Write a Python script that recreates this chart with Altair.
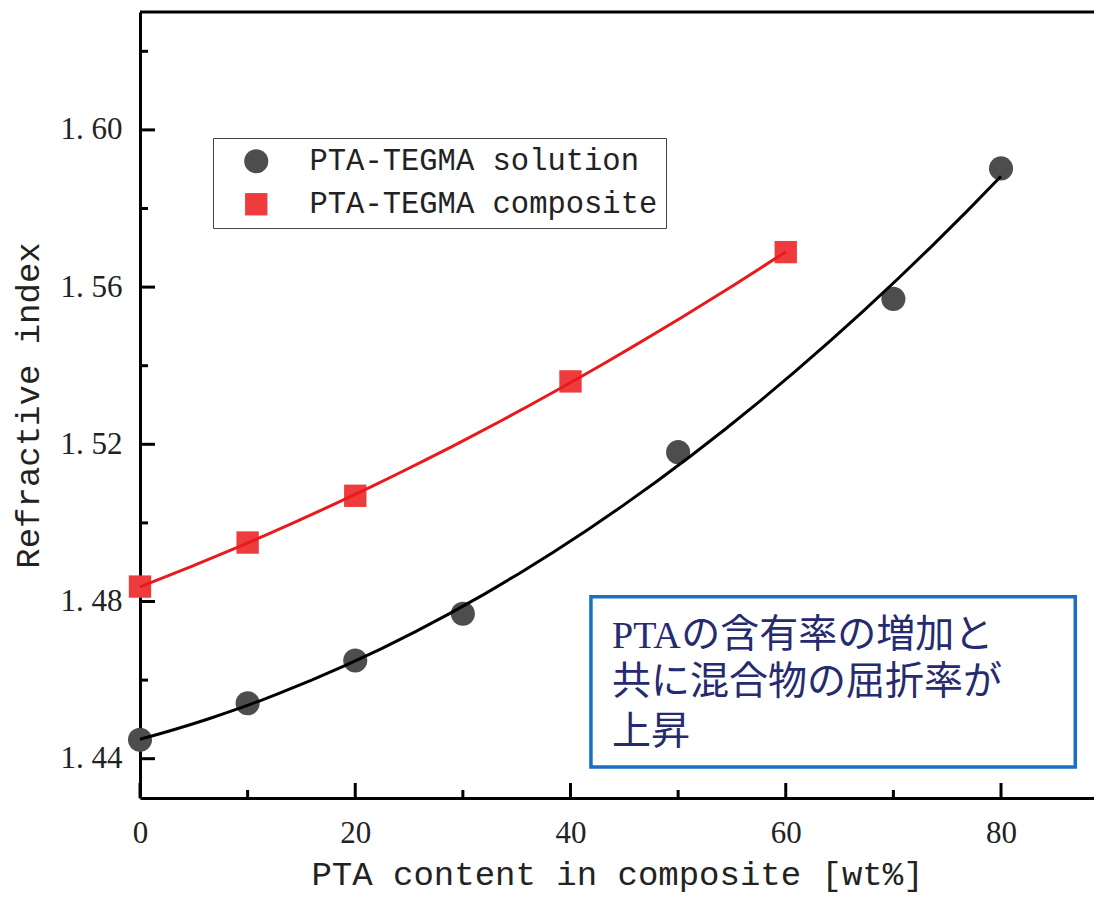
import altair as alt
import pandas as pd

# ---- data ----
series_names = ["PTA-TEGMA solution", "PTA-TEGMA composite"]
solution_x = [0, 10, 20, 30, 50, 70, 80]
solution_y = [1.4448, 1.4541, 1.4650, 1.4769, 1.5180, 1.5570, 1.5902]
composite_x = [0, 10, 20, 40, 60]
composite_y = [1.4838, 1.4950, 1.5069, 1.5360, 1.5689]

x_major_ticks = [0, 20, 40, 60, 80]
x_minor_ticks = [10, 30, 50, 70]
y_major_ticks = [1.44, 1.48, 1.52, 1.56, 1.60]
y_minor_ticks = [1.46, 1.50, 1.54, 1.58, 1.62]

note_prefix = "PTA"
note_lines = ["の含有率の増加と", "共に混合物の屈折率が", "上昇"]

# ---- layout constants ----
W, H = 954, 786
x_domain = [0, 88.64]
y_domain = [1.43, 1.63]
note_box = {"x": 41.9, "x2": 86.9, "y": 1.4379, "y2": 1.4812}
note_text_x = 43.86
note_rest_x = 50.3
note_line_y = [1.4715, 1.4596, 1.4468]

NAVY = "#262a6e"

df = pd.DataFrame({
    "x": solution_x + composite_x,
    "y": solution_y + composite_y,
    "series": [series_names[0]] * len(solution_x) + [series_names[1]] * len(composite_x),
})

xs = alt.Scale(domain=x_domain, nice=False, zero=False)
ys = alt.Scale(domain=y_domain, nice=False, zero=False)

x_axis = alt.Axis(
    values=x_major_ticks, ticks=False, grid=False, domainColor="black", domainWidth=3,
    labelFont="Liberation Serif", labelFontSize=31, labelColor="#222222", labelPadding=20,
    labelFlush=False,
    title="PTA content in composite [wt%]", titleFont="Liberation Mono", titleFontSize=34,
    titleFontWeight="normal", titleColor="#222222", titlePadding=9,
)
y_axis = alt.Axis(
    values=y_major_ticks, ticks=False, grid=False, domainColor="black", domainWidth=3,
    labelFont="Liberation Serif", labelFontSize=31, labelColor="#222222", labelPadding=18,
    labelFlush=False,
    labelExpr="replace(format(datum.value, '.2f'), '.', '. ')",
    title="Refractive index", titleFont="Liberation Mono", titleFontSize=34,
    titleFontWeight="normal", titleColor="#222222", titlePadding=15,
)


def X(field="x"):
    return alt.X(f"{field}:Q", scale=xs, axis=x_axis, title="PTA content in composite [wt%]")


def Y(field="y"):
    return alt.Y(f"{field}:Q", scale=ys, axis=y_axis, title="Refractive index")


legend = alt.Legend(
    title=None, orient="none", legendX=73, legendY=126,
    strokeColor="#444444", fillColor="white", padding=8,
    labelFont="Liberation Mono", labelFontSize=30.5, labelColor="#222222", labelLimit=0,
    labelOffset=38, symbolOffset=20, symbolSize=560, rowPadding=12,
    symbolStrokeWidth=0,
)

points = alt.Chart(df).mark_point(filled=True, opacity=1).encode(
    x=X(), y=Y(),
    color=alt.Color("series:N", scale=alt.Scale(domain=series_names, range=["#4d4d4d", "#ee3b3e"]), legend=legend),
    shape=alt.Shape("series:N", scale=alt.Scale(domain=series_names, range=["circle", "square"]), legend=legend),
    size=alt.Size("series:N", scale=alt.Scale(domain=series_names, range=[580, 500]), legend=None),
)

line_sol = alt.Chart(df).transform_filter(
    alt.datum.series == series_names[0]
).transform_regression("x", "y", method="poly", order=2).mark_line(
    color="black", strokeWidth=3
).encode(x=X(), y=Y())

line_comp = alt.Chart(df).transform_filter(
    alt.datum.series == series_names[1]
).transform_regression("x", "y", method="poly", order=2).mark_line(
    color="#ea1a1c", strokeWidth=3
).encode(x=X(), y=Y())

# inward ticks
ytm = alt.Chart(pd.DataFrame({"y": y_major_ticks})).mark_rule(color="black", strokeWidth=3).encode(
    y=Y(), x=alt.value(0), x2=alt.value(15))
ytn = alt.Chart(pd.DataFrame({"y": y_minor_ticks})).mark_rule(color="black", strokeWidth=3).encode(
    y=Y(), x=alt.value(0), x2=alt.value(8))
xtm = alt.Chart(pd.DataFrame({"x": x_major_ticks})).mark_rule(color="black", strokeWidth=3).encode(
    x=X(), y=alt.value(H), y2=alt.value(H - 15))
xtn = alt.Chart(pd.DataFrame({"x": x_minor_ticks})).mark_rule(color="black", strokeWidth=3).encode(
    x=X(), y=alt.value(H), y2=alt.value(H - 8))

top_border = alt.Chart(pd.DataFrame({"k": [0]})).mark_rule(color="black", strokeWidth=3).encode(
    x=alt.value(0), x2=alt.value(W), y=alt.value(0))

box_df = pd.DataFrame([note_box])
note_rect = alt.Chart(box_df).mark_rect(fill="white", stroke="#1a70c0", strokeWidth=3.5).encode(
    x=X(), x2="x2:Q", y=Y(), y2="y2:Q")

prefix_df = pd.DataFrame({"x": [note_text_x], "y": [note_line_y[0]], "t": [note_prefix]})
note_prefix_mark = alt.Chart(prefix_df).mark_text(
    align="left", baseline="middle", font="Liberation Serif", fontSize=38, color=NAVY, dy=2
).encode(x=X(), y=Y(), text="t:N")

lines_df = pd.DataFrame({
    "x": [note_rest_x, note_text_x, note_text_x],
    "y": note_line_y,
    "t": note_lines,
})
note_text = alt.Chart(lines_df).mark_text(
    align="left", baseline="middle", font="Noto Sans CJK JP", fontSize=39, color=NAVY
).encode(x=X(), y=Y(), text="t:N")

chart = alt.layer(
    points, top_border, ytm, ytn, xtm, xtn, line_sol, line_comp,
    note_rect, note_prefix_mark, note_text,
).properties(
    width=W, height=H,
    autosize=alt.AutoSizeParams(type="none"),
    padding={"left": 132, "top": 4, "right": 0, "bottom": 96},
).configure_view(stroke=None).configure(background="white")

chart.save("out.html", embed_options={"renderer": "svg", "actions": False})
